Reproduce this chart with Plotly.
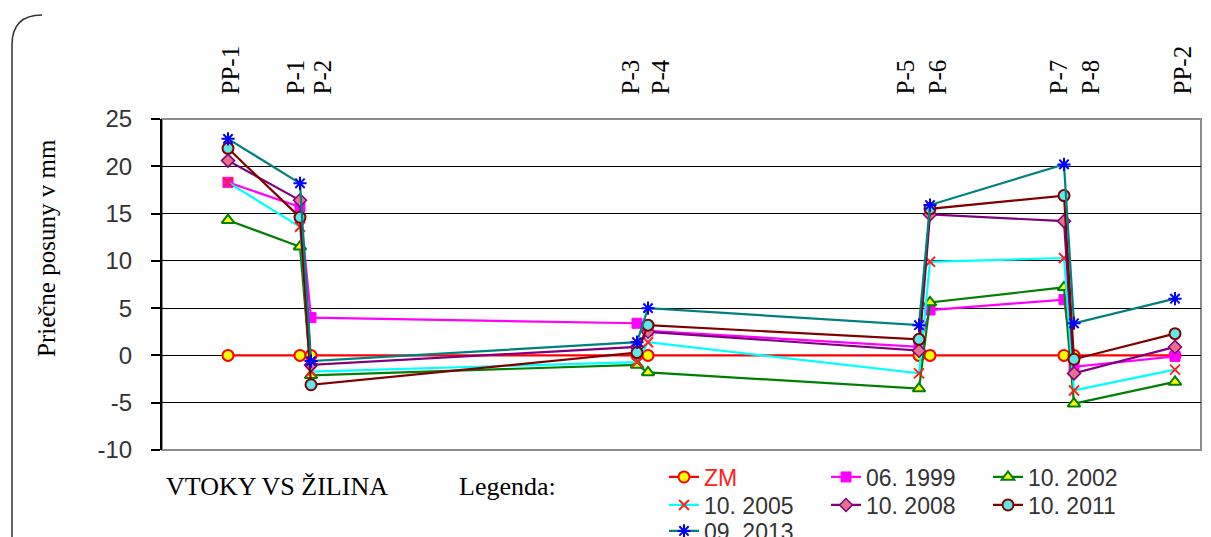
import plotly.graph_objects as go

# ---------------- data ----------------
stations = ["PP-1", "P-1", "P-2", "P-3", "P-4", "P-5", "P-6", "P-7", "P-8", "PP-2"]
# relative position of each measuring point along the dam (chart units)
station_pos = [66, 138, 149, 475, 486, 757, 768, 902, 912, 1013]

zm    = [0, 0, 0, 0, 0, 0, 0, 0, 0, 0]
y1999 = [18.3, 15.7, 4.0, 3.4, 2.6, 0.9, 4.8, 5.9, -1.2, -0.1]
y2002 = [14.3, 11.5, -2.1, -1.0, -1.8, -3.5, 5.6, 7.2, -5.1, -2.8]
y2005 = [18.3, 13.6, -1.7, -0.7, 1.4, -1.9, 9.9, 10.3, -3.7, -1.5]
y2008 = [20.6, 16.4, -1.0, 0.9, 2.5, 0.5, 14.9, 14.2, -1.9, 0.9]
y2011 = [21.9, 14.6, -3.1, 0.3, 3.2, 1.7, 15.5, 16.9, -0.4, 2.3]
y2013 = [22.9, 18.2, -0.6, 1.4, 5.0, 3.2, 15.9, 20.2, 3.4, 6.0]

y_ticks = [-10, -5, 0, 5, 10, 15, 20, 25]
y_tick_labels = ["-10", "-5", "0", "5", "10", "15", "20", "25"]

# label offsets (px) for the rotated station names above the plot
label_shift = [2, -5, 11, -7, 12, -14, 7, -6, 16, 7]

SERIF = "Liberation Serif, Times New Roman, serif"
SANS = "Liberation Sans, Arial, sans-serif"

series = [
    dict(name="<span style='color:#ff2020'>ZM</span>", y=zm, line="#ff0000",
         marker=dict(symbol="circle", size=11, color="#ffff00",
                     line=dict(color="#ff0000", width=2)), legend="legend"),
    dict(name="06. 1999", y=y1999, line="#ff00ff",
         marker=dict(symbol="square", size=10, color="#ff00ff",
                     line=dict(color="#ff00ff", width=1)), legend="legend"),
    dict(name="10. 2002", y=y2002, line="#008000",
         marker=dict(symbol="triangle-up", size=11, color="#ffff00",
                     line=dict(color="#008000", width=2)), legend="legend"),
    dict(name="10. 2005", y=y2005, line="#00ffff",
         marker=dict(symbol="x-thin-open", size=10, color="#ff2020",
                     line=dict(color="#ff2020", width=2)), legend="legend2"),
    dict(name="10. 2008", y=y2008, line="#800080",
         marker=dict(symbol="diamond", size=10, color="#e8708a",
                     line=dict(color="#800080", width=1.5)), legend="legend2"),
    dict(name="10. 2011", y=y2011, line="#800000",
         marker=dict(symbol="circle", size=11, color="#5ee8e8",
                     line=dict(color="#800000", width=2)), legend="legend2"),
    dict(name="09. 2013", y=y2013, line="#008080",
         marker=dict(symbol="asterisk-open", size=11, color="#0000ff",
                     line=dict(color="#0000ff", width=2)), legend="legend3"),
]

fig = go.Figure()
for s in series:
    fig.add_trace(go.Scatter(
        x=station_pos, y=s["y"], name=s["name"], mode="lines+markers",
        line=dict(color=s["line"], width=2.2), marker=s["marker"],
        legend=s["legend"], cliponaxis=False))

# page has an 8px body margin: work in screen pixels and convert
OFF = 8
W, H = 1211 - OFF, 537 - OFF
PLOT_L, PLOT_R, PLOT_T, PLOT_B = 162, 1201, 119, 450   # screen pixels
ML = PLOT_L - OFF
MT = PLOT_T - OFF
MR = W - (PLOT_R - OFF)
MB = H - (PLOT_B - OFF)
PW, PH = PLOT_R - PLOT_L, PLOT_B - PLOT_T


def px_x(px):
    return (px - PLOT_L) / PW


def px_y(py):
    return (PLOT_B - py) / PH


annotations = []
for name, pos, sh in zip(stations, station_pos, label_shift):
    annotations.append(dict(
        text=name, x=pos, xref="x", y=px_y(97), yref="paper",
        xanchor="center", yanchor="bottom", textangle=-90, xshift=sh,
        showarrow=False, font=dict(family=SERIF, size=25, color="#000")))

annotations += [
    dict(text="Priečne posuny v mm", x=px_x(46), y=px_y(248), xref="paper",
         yref="paper", xanchor="center", yanchor="middle", textangle=-90,
         showarrow=False, font=dict(family=SERIF, size=25, color="#000")),
    dict(text="VTOKY VS ŽILINA", x=px_x(164), y=px_y(486), xref="paper",
         yref="paper", xanchor="left", yanchor="middle", showarrow=False,
         font=dict(family=SERIF, size=26, color="#000")),
    dict(text="Legenda:", x=px_x(457), y=px_y(486), xref="paper",
         yref="paper", xanchor="left", yanchor="middle", showarrow=False,
         font=dict(family=SERIF, size=26, color="#000")),
]

shapes = [
    # plot-area frame (grey)
    dict(type="rect", xref="paper", yref="paper", x0=0, x1=1, y0=0, y1=1,
         line=dict(color="#8c8c8c", width=2), layer="below"),
    # outer chart frame with rounded top-left corner
    dict(type="path", xref="paper", yref="paper",
         path=(f"M {px_x(12)},{px_y(560)} L {px_x(12)},{px_y(45)} "
               f"Q {px_x(12)},{px_y(15)} {px_x(42)},{px_y(15)}"),
         line=dict(color="#333333", width=1.5)),
]

legend_common = dict(orientation="h", entrywidth=117, entrywidthmode="pixels",
                     xref="paper", yref="paper", x=px_x(664), xanchor="left",
                     yanchor="middle", bgcolor="rgba(0,0,0,0)", borderwidth=0,
                     font=dict(family=SANS, size=23, color="#333333"),
                     traceorder="normal")

fig.update_layout(
    width=W, height=H,
    margin=dict(l=ML, r=MR, t=MT, b=MB, autoexpand=False),
    paper_bgcolor="white", plot_bgcolor="white",
    showlegend=True,
    legend=dict(legend_common, y=px_y(477)),
    legend2=dict(legend_common, y=px_y(505)),
    legend3=dict(legend_common, y=px_y(531)),
    xaxis=dict(range=[0, PW], showgrid=False, zeroline=False,
               showticklabels=False, ticks="", showline=False, fixedrange=True),
    yaxis=dict(range=[-10, 25], tickvals=y_ticks, ticktext=y_tick_labels,
               showgrid=True, gridcolor="#000000", gridwidth=1, zeroline=False,
               showline=True, linecolor="#000000", linewidth=2,
               ticks="outside", ticklen=9, tickwidth=1.5, tickcolor="#000000",
               ticklabelstandoff=14,
               tickfont=dict(family=SANS, size=24, color="#333333")),
    annotations=annotations,
    shapes=shapes,
)

fig.write_html("out.html")
